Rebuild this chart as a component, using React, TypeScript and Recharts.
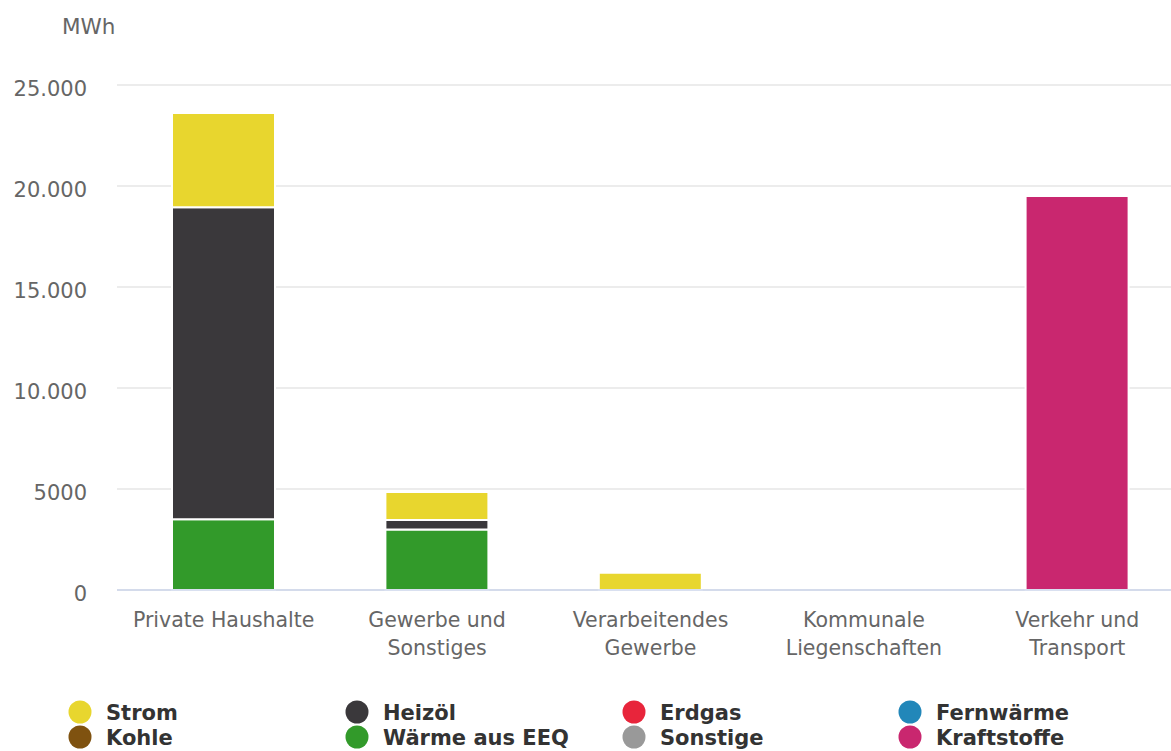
import { Bar, BarChart, CartesianGrid, XAxis, YAxis } from "recharts";

// categories (x axis)
const categories = [
    "Private Haushalte",
    "Gewerbe und Sonstiges",
    "Verarbeitendes Gewerbe",
    "Kommunale Liegenschaften",
    "Verkehr und Transport",
];
const categoryLines = [
    ["Private Haushalte"],
    ["Gewerbe und", "Sonstiges"],
    ["Verarbeitendes", "Gewerbe"],
    ["Kommunale", "Liegenschaften"],
    ["Verkehr und", "Transport"],
];

// MWh per category
const strom = [4660, 1390, 860, 0, 0];
const heizoel = [15450, 465, 0, 0, 0];
const erdgas = [0, 0, 0, 0, 0];
const fernwaerme = [0, 0, 0, 0, 0];
const kohle = [0, 0, 0, 0, 0];
const waermeEEQ = [3500, 3000, 0, 0, 0];
const sonstige = [0, 0, 0, 0, 0];
const kraftstoffe = [0, 0, 0, 0, 19500];

const yTicks = [0, 5000, 10000, 15000, 20000, 25000];

// legend order (row-wise) = series order; first series sits on top of the stack
const series = [
    { key: "strom", name: "Strom", color: "#e8d62e", values: strom },
    { key: "heizoel", name: "Heizöl", color: "#3a383b", values: heizoel },
    { key: "erdgas", name: "Erdgas", color: "#e8253b", values: erdgas },
    { key: "fernwaerme", name: "Fernwärme", color: "#2287b9", values: fernwaerme },
    { key: "kohle", name: "Kohle", color: "#7f5210", values: kohle },
    { key: "waermeEEQ", name: "Wärme aus EEQ", color: "#329a2a", values: waermeEEQ },
    { key: "sonstige", name: "Sonstige", color: "#999999", values: sonstige },
    { key: "kraftstoffe", name: "Kraftstoffe", color: "#c9276f", values: kraftstoffe },
];

const data = categories.map((c, i) => {
    const row: any = { name: c, lines: categoryLines[i] };
    series.forEach((s) => (row[s.key] = s.values[i]));
    return row;
});

const FONT = "'DejaVu Sans', sans-serif";

const fmt = (v: number) => (v >= 10000 ? String(v).replace(/\B(?=(\d{3})+(?!\d))/g, ".") : String(v));

function YTick({ y, payload }: any) {
    return (
        <text x={87} y={y + 11} textAnchor="end" fill="#666" fontSize={21} fontFamily={FONT}>
            {fmt(payload.value)}
        </text>
    );
}

function XTick({ x, payload, index }: any) {
    const lines = categoryLines[index] ?? [payload.value];
    return (
        <text x={x} y={627} textAnchor="middle" fill="#666" fontSize={20.5} fontFamily={FONT}>
            {lines.map((l: string, i: number) => (
                <tspan key={i} x={x} dy={i === 0 ? 0 : 28}>
                    {l}
                </tspan>
            ))}
        </text>
    );
}

const legendX = [80, 357, 634, 910];

export default function App() {
    return (
        <div style={{ position: "absolute", left: 0, top: 0, width: 1171, height: 751, overflow: "hidden", background: "#fff" }}>
            <BarChart width={1200} height={690} data={data} margin={{ top: 85, right: 16, bottom: 0, left: 0 }}>
                <CartesianGrid vertical={false} stroke="#e6e6e6" strokeWidth={1.5} />
                <XAxis
                    dataKey="name"
                    axisLine={{ stroke: "#ccd6eb", strokeWidth: 1.5 }}
                    tickLine={false}
                    interval={0}
                    height={100}
                    tick={<XTick />}
                />
                <YAxis
                    width={117}
                    domain={[0, 25000]}
                    ticks={yTicks}
                    axisLine={false}
                    tickLine={false}
                    tick={<YTick />}
                    label={{
                        content: () => (
                            <text x={62} y={34} fill="#666" fontSize={21.5} fontFamily={FONT}>
                                MWh
                            </text>
                        ),
                    }}
                />
                {[...series].reverse().map((s) => (
                    <Bar
                        key={s.key}
                        dataKey={s.key}
                        name={s.name}
                        stackId="a"
                        fill={s.color}
                        stroke="#fff"
                        strokeWidth={2}
                        barSize={103}
                        isAnimationActive={false}
                    />
                ))}
            </BarChart>
            <svg width={1171} height={61} style={{ position: "absolute", left: 0, top: 690 }}>
                {series.map((s, i) => {
                    const cx = legendX[i % 4];
                    const cy = 22 + Math.floor(i / 4) * 25;
                    return (
                        <g key={s.key}>
                            <circle cx={cx} cy={cy} r={11.5} fill={s.color} />
                            <text x={cx + 26} y={cy + 8} fill="#333" fontSize={21} fontWeight="bold" fontFamily={FONT}>
                                {s.name}
                            </text>
                        </g>
                    );
                })}
            </svg>
        </div>
    );
}
